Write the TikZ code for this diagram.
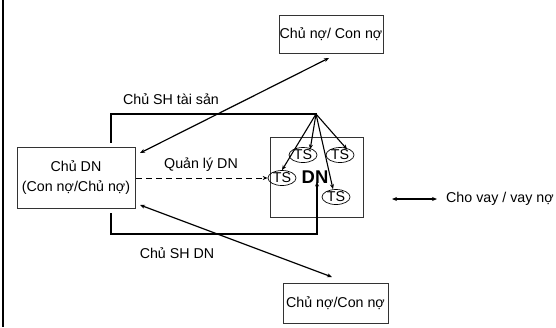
\documentclass[tikz,border=0pt]{standalone}
\usepackage{fontspec}
\setmainfont{Liberation Sans}
\usetikzlibrary{arrows.meta,shapes.geometric}

\tikzset{
  box/.style={draw=black!80, line width=0.8bp, inner sep=0pt, align=center,
    font=\fontsize{14.3}{19.5}\selectfont},
  asset/.style={draw, ellipse, line width=0.7bp, minimum width=28bp, minimum height=15bp,
    inner sep=0pt, font=\fontsize{14.3}{16}\selectfont},
  lbl/.style={inner sep=0pt, font=\fontsize{14.3}{16}\selectfont},
  tip/.style={-{Stealth[length=5bp,width=4bp]}},
  twotip/.style={{Stealth[length=5bp,width=4bp]}-{Stealth[length=5bp,width=4bp]}},
  owner/.style={line width=1.5bp},
  fan/.style={tip, line width=1.1bp},
  loan/.style={twotip, line width=1.2bp},
}

\begin{document}
\begin{tikzpicture}[x=1bp,y=-1bp]
\useasboundingbox (0,0) rectangle (556,327);

% left border rule
\draw[line width=1.8bp] (3,0) -- (3,327);

% boxes
\node[box, minimum width=104bp, minimum height=38bp] (topc) at (331,34) {Chủ nợ/ Con nợ};
\node[box, minimum width=105bp, minimum height=40bp] (botc) at (335.5,303) {Chủ nợ/Con nợ};
\node[box, minimum width=118bp, minimum height=61bp] (owner) at (76,177.5) {Chủ DN\\(Con nợ/Chủ nợ)};
\node[box, minimum width=93bp, minimum height=80bp] (firm) at (316.5,177) {};

% the firm and its assets
\node[lbl, font=\fontsize{18.5}{20}\selectfont\bfseries] (dn) at (315,177) {DN};
\node[asset] (ts1) at (282,178) {TS};
\node[asset] (ts2) at (303,155) {TS};
\node[asset] (ts3) at (340,155) {TS};
\node[asset] (ts4) at (336,197) {TS};

% ownership of the assets
\coordinate (hub) at (316,114);
\coordinate (upA) at (111,142);
\coordinate (upB) at (111,114);
\draw[owner, line cap=rect] (upA) -- (upB) -- (hub);
\draw[fan] (hub) -- (ts1.north);
\draw[fan] (hub) -- ([xshift=-3bp]ts2.north east);
\draw[fan] (hub) -- ([xshift=-3bp]ts3.north east);
\draw[fan] (hub) -- ([xshift=-3bp]ts4.north);

% ownership of the firm
\coordinate (dnA) at (111,213);
\coordinate (dnB) at (111,234);
\coordinate (dnC) at (317,234);
\draw[owner, tip] (dnA) -- (dnB) -- (dnC) -- ([yshift=2bp]dn.south -| dnC);

% management
\draw[tip, line width=1bp, dash pattern=on 6bp off 4bp] ([xshift=1bp]owner.east |- ts1) -- (ts1.west);

% lending / borrowing
\coordinate (tA) at (329,58);
\coordinate (tB) at (140,153);
\draw[loan] (tA) -- (tB);
\coordinate (bA) at (140,205);
\coordinate (bB) at (332,277);
\draw[loan] (bA) -- (bB);

% labels
\node[lbl] (l1) at (171,99) {Chủ SH tài sản};
\node[lbl] (l2) at (201,165) {Quản lý DN};
\node[lbl] (l3) at (177,253) {Chủ SH DN};

% legend
\coordinate (kA) at (392,199);
\coordinate (kB) at (437,199);
\draw[loan] (kA) -- (kB);
\node[lbl, anchor=west] (key) at (446,199) {Cho vay / vay nợ};
\end{tikzpicture}
\end{document}
